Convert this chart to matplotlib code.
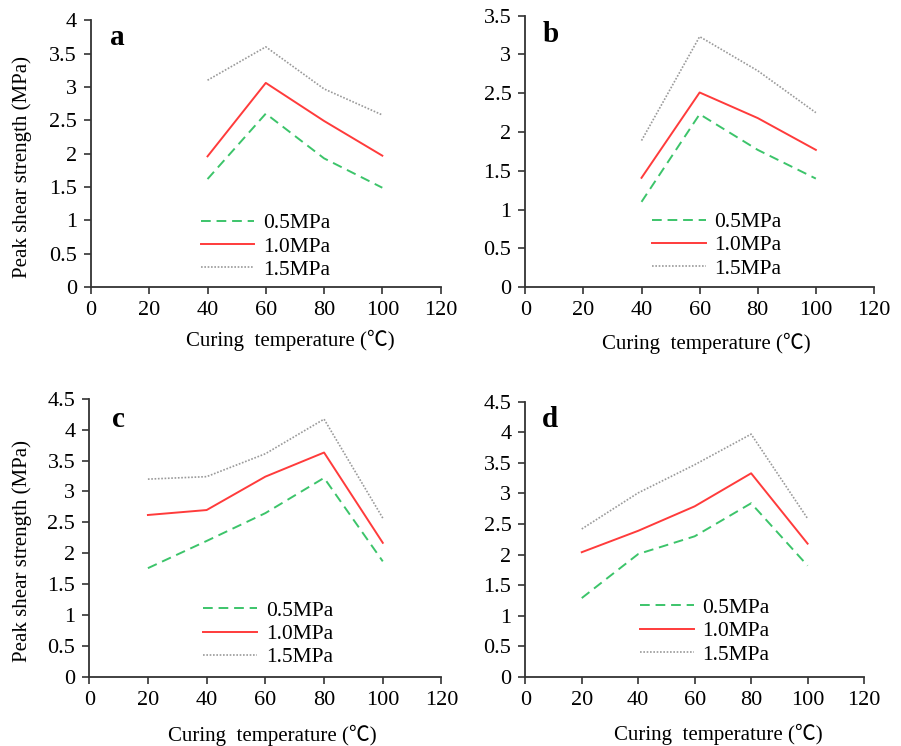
import matplotlib.pyplot as plt
from matplotlib.ticker import FuncFormatter

# Curing temperatures for each panel
temp_ab = [40, 60, 80, 100]
temp_cd = [20, 40, 60, 80, 100]

# Peak shear strength (MPa), per normal stress
a_05 = [1.62, 2.60, 1.93, 1.49]
a_10 = [1.96, 3.06, 2.49, 1.97]
a_15 = [3.10, 3.60, 2.97, 2.58]

b_05 = [1.10, 2.23, 1.77, 1.40]
b_10 = [1.41, 2.51, 2.18, 1.77]
b_15 = [1.89, 3.23, 2.79, 2.25]

c_05 = [1.76, 2.20, 2.65, 3.22, 1.87]
c_10 = [2.62, 2.70, 3.24, 3.63, 2.17]
c_15 = [3.20, 3.24, 3.61, 4.17, 2.57]

d_05 = [1.29, 2.01, 2.30, 2.84, 1.82]
d_10 = [2.04, 2.39, 2.79, 3.33, 2.18]
d_15 = [2.42, 3.01, 3.47, 3.97, 2.59]

series_labels = ['0.5MPa', '1.0MPa', '1.5MPa']
panel_letters = ['a', 'b', 'c', 'd']

plt.rcParams['font.family'] = ['Liberation Serif', 'Noto Sans CJK SC']

fig = plt.figure(figsize=(9.01, 7.46), dpi=100)

# rect, ymax, temps, data, xlabel (x, y), ylabel (x, y) or None, letter pos, legend anchor
panels = [
    ([0.101, 0.615, 0.388, 0.358], 4.0, temp_ab, (a_05, a_10, a_15),
     (0.57, -0.161), (-0.169, 0.45), (0.074, 0.935), (0.258, -0.045)),
    ([0.583, 0.615, 0.387, 0.364], 3.5, temp_ab, (b_05, b_10, b_15),
     (0.52, -0.166), None, (0.072, 0.93), (0.308, -0.04)),
    ([0.099, 0.0925, 0.391, 0.373], 4.5, temp_cd, (c_05, c_10, c_15),
     (0.52, -0.173), (-0.162, 0.453), (0.082, 0.925), (0.269, -0.035)),
    ([0.583, 0.0925, 0.376, 0.369], 4.5, temp_cd, (d_05, d_10, d_15),
     (0.57, -0.171), None, (0.074, 0.935), (0.282, -0.025)),
]

styles = [
    dict(color='#3cc46a', linestyle=(0, (5, 3)), linewidth=1.4),
    dict(color='#ff3b3b', linestyle='-', linewidth=1.4),
    dict(color='#9a9a9a', linestyle=(0, (1, 1)), linewidth=1.2),
]

for letter, (rect, ymax, temps, ys, xlab, ylab, letter_pos, leg_pos) in zip(panel_letters, panels):
    ax = fig.add_axes(rect)
    for y, lab, st in zip(ys, series_labels, styles):
        ax.plot(temps, y, label=lab, **st)

    ax.set_xlim(0, 120)
    ax.set_ylim(0, ymax)
    ax.set_xticks(range(0, 121, 20))
    ax.set_yticks([i * 0.5 for i in range(int(ymax / 0.5) + 1)])
    ax.yaxis.set_major_formatter(FuncFormatter(lambda v, p: '%g' % v))

    for side in ['top', 'right']:
        ax.spines[side].set_visible(False)
    for side in ['left', 'bottom']:
        ax.spines[side].set_color('#333333')
        ax.spines[side].set_linewidth(1.3)
    ax.tick_params(direction='out', length=5, width=1.2, color='#333333',
                   labelsize=16, pad=5)

    ax.set_xlabel('Curing  temperature (℃)', fontsize=15)
    ax.xaxis.set_label_coords(*xlab)
    if ylab is not None:
        ax.set_ylabel('Peak shear strength (MPa)', fontsize=15)
        ax.yaxis.set_label_coords(*ylab)

    ax.text(letter_pos[0], letter_pos[1], letter, transform=ax.transAxes,
            fontsize=21, fontweight='bold', ha='center', va='center')

    ax.legend(loc='lower left', bbox_to_anchor=leg_pos, frameon=False,
              fontsize=15.5, handlelength=2.5, handletextpad=0.4,
              labelspacing=0.15)

fig.savefig('out.png', dpi=100)
